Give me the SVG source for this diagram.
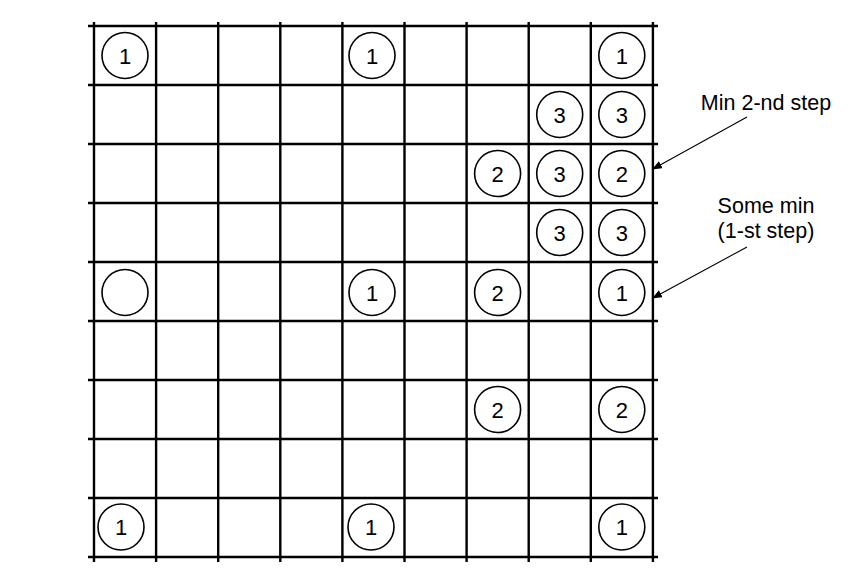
<svg xmlns="http://www.w3.org/2000/svg" width="863" height="586" viewBox="0 0 863 586">
<style>
.g{stroke:#000;stroke-width:2.4;fill:none}
.c{stroke:#000;stroke-width:1.6;fill:#fff}
.t{font-family:"Liberation Sans",Arial,sans-serif;font-size:22px;fill:#000;text-anchor:middle}
.l{font-family:"Liberation Sans",Arial,sans-serif;font-size:21.5px;fill:#000;text-anchor:middle}
.a{stroke:#000;stroke-width:1.1;fill:none}
</style>
<defs>
<marker id="ah" viewBox="0 0 10 8" refX="10" refY="4" markerWidth="10" markerHeight="8" markerUnits="userSpaceOnUse" orient="auto">
<path d="M0,0 L10,4 L0,8 Z" fill="#000"/>
</marker>
</defs>
<rect width="863" height="586" fill="#fff"/>
<g id="grid" class="g">
<path d="M94,22V562M156.1,22V562M218.2,22V562M280.3,22V562M342.4,22V562M404.5,22V562M466.6,22V562M528.7,22V562M590.8,22V562M652.9,22V562"/>
<path d="M88,26H658M88,85H658M88,144H658M88,203H658M88,262H658M88,321H658M88,380H658M88,439H658M88,498H658M88,557H658"/>
</g>
<g id="n-r0c0"><circle class="c" cx="125" cy="55.5" r="23"/><text class="t" x="125" y="63.5">1</text></g>
<g id="n-r0c4"><circle class="c" cx="372" cy="55.5" r="23"/><text class="t" x="372" y="63.5">1</text></g>
<g id="n-r0c8"><circle class="c" cx="621.8" cy="55.5" r="23"/><text class="t" x="621.8" y="63.5">1</text></g>
<g id="n-r1c7"><circle class="c" cx="559.7" cy="114.5" r="23"/><text class="t" x="559.7" y="122.5">3</text></g>
<g id="n-r1c8"><circle class="c" cx="621.8" cy="114.5" r="23"/><text class="t" x="621.8" y="122.5">3</text></g>
<g id="n-r2c6"><circle class="c" cx="497.6" cy="173.5" r="23"/><text class="t" x="497.6" y="181.5">2</text></g>
<g id="n-r2c7"><circle class="c" cx="559.7" cy="173.5" r="23"/><text class="t" x="559.7" y="181.5">3</text></g>
<g id="n-r2c8"><circle class="c" cx="621.8" cy="173.5" r="23"/><text class="t" x="621.8" y="181.5">2</text></g>
<g id="n-r3c7"><circle class="c" cx="559.7" cy="232.5" r="23"/><text class="t" x="559.7" y="240.5">3</text></g>
<g id="n-r3c8"><circle class="c" cx="621.8" cy="232.5" r="23"/><text class="t" x="621.8" y="240.5">3</text></g>
<g id="n-r4c0"><circle class="c" cx="125" cy="292.5" r="23"/></g>
<g id="n-r4c4"><circle class="c" cx="372" cy="292.5" r="23"/><text class="t" x="372" y="300.5">1</text></g>
<g id="n-r4c6"><circle class="c" cx="497.6" cy="292.5" r="23"/><text class="t" x="497.6" y="300.5">2</text></g>
<g id="n-r4c8"><circle class="c" cx="621.8" cy="292.5" r="23"/><text class="t" x="621.8" y="300.5">1</text></g>
<g id="n-r6c6"><circle class="c" cx="497.6" cy="409.5" r="23"/><text class="t" x="497.6" y="417.5">2</text></g>
<g id="n-r6c8"><circle class="c" cx="621.8" cy="409.5" r="23"/><text class="t" x="621.8" y="417.5">2</text></g>
<g id="n-r8c0"><circle class="c" cx="121" cy="527" r="23"/><text class="t" x="121" y="535">1</text></g>
<g id="n-r8c4"><circle class="c" cx="371" cy="527" r="23" stroke-width="2"/><text class="t" x="371" y="535">1</text></g>
<g id="n-r8c8"><circle class="c" cx="621.8" cy="527" r="23"/><text class="t" x="621.8" y="535">1</text></g>
<g id="label-min2"><text class="l" x="766" y="110">Min 2-nd step</text></g>
<g id="label-min1"><text class="l" x="766" y="213">Some min</text><text class="l" x="766" y="238">(1-st step)</text></g>
<g id="connectors">
<line class="a" x1="747" y1="117" x2="652" y2="169.5" marker-end="url(#ah)"/>
<line class="a" x1="747" y1="247" x2="652" y2="298.5" marker-end="url(#ah)"/>
</g>
</svg>
